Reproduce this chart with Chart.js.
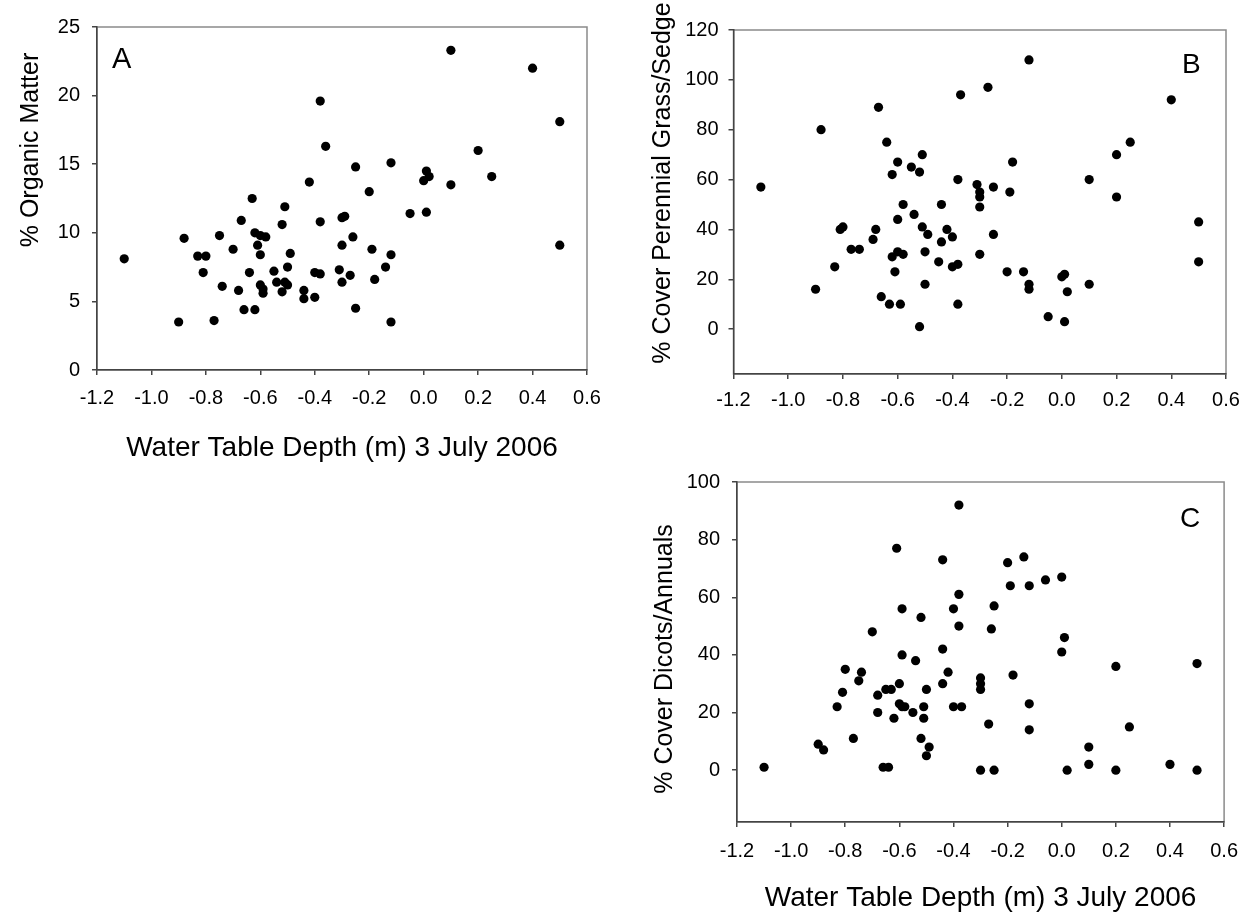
<!DOCTYPE html>
<html>
<head>
<meta charset="utf-8">
<script src="https://cdn.jsdelivr.net/npm/chart.js@4.4.0/dist/chart.umd.min.js"></script>
<style>
body { margin: 0; background: #fff; width: 1250px; height: 913px; position: relative; overflow: hidden; }
canvas { position: absolute; }
</style>
</head>
<body>
<canvas id="chartA" width="640" height="480" style="left:0;top:0"></canvas>
<canvas id="chartB" width="610" height="420" style="left:640px;top:0"></canvas>
<canvas id="chartC" width="610" height="473" style="left:640px;top:440px"></canvas>
<script>
// tick labels
const xTicks = [-1.2, -1.0, -0.8, -0.6, -0.4, -0.2, 0.0, 0.2, 0.4, 0.6];
const yTicksA = [0, 5, 10, 15, 20, 25];
const yTicksB = [0, 20, 40, 60, 80, 100, 120];
const yTicksC = [0, 20, 40, 60, 80, 100];

// A - organic matter
const depthA = [-1.10, -0.90, -0.88, -0.83, -0.80, -0.81, -0.77, -0.75, -0.74, -0.70,
  -0.68, -0.67, -0.66, -0.64, -0.63, -0.62, -0.62, -0.61, -0.60, -0.60,
  -0.58, -0.60, -0.59, -0.59, -0.55, -0.54, -0.52, -0.52, -0.51, -0.51,
  -0.50, -0.50, -0.49, -0.44, -0.44, -0.42, -0.40, -0.40, -0.38, -0.38,
  -0.38, -0.36, -0.31, -0.30, -0.30, -0.29, -0.30, -0.27, -0.25, -0.26,
  -0.25, -0.20, -0.19, -0.18, -0.14, -0.12, -0.12, -0.12, -0.05, 0.01,
  0.00, 0.01, 0.02, 0.10, 0.10, 0.20, 0.25, 0.40, 0.50, 0.50];
const organicA = [8.1, 3.5, 9.6, 8.3, 8.3, 7.1, 3.6, 9.8, 6.1, 8.8,
  5.8, 10.9, 4.4, 7.1, 12.5, 10.0, 4.4, 9.1, 9.8, 8.4,
  9.7, 6.2, 5.9, 5.6, 7.2, 6.4, 5.7, 10.6, 11.9, 6.4,
  7.5, 6.2, 8.5, 5.8, 5.2, 13.7, 7.1, 5.3, 19.6, 10.8,
  7.0, 16.3, 7.3, 9.1, 11.1, 11.2, 6.4, 6.9, 14.8, 9.7,
  4.5, 13.0, 8.8, 6.6, 7.5, 15.1, 8.4, 3.5, 11.4, 11.5,
  13.8, 14.5, 14.1, 23.3, 13.5, 16.0, 14.1, 22.0, 18.1, 9.1];

// B - perennial grass/sedge
const depthB = [-1.10, -0.90, -0.88, -0.83, -0.81, -0.80, -0.77, -0.74, -0.69, -0.68,
  -0.67, -0.66, -0.64, -0.63, -0.62, -0.62, -0.61, -0.60, -0.60, -0.60,
  -0.59, -0.58, -0.58, -0.55, -0.54, -0.52, -0.52, -0.51, -0.51, -0.50,
  -0.49, -0.50, -0.45, -0.44, -0.44, -0.42, -0.40, -0.40, -0.38, -0.38,
  -0.38, -0.37, -0.27, -0.31, -0.30, -0.30, -0.30, -0.25, -0.25, -0.30,
  -0.19, -0.18, -0.20, -0.14, -0.12, -0.12, -0.12, -0.05, 0.00, 0.01,
  0.02, 0.01, 0.10, 0.10, 0.20, 0.20, 0.25, 0.40, 0.50, 0.50];
const grassB = [57, 16, 80, 25, 40, 41, 32, 32, 36, 40,
  89, 13, 75, 10, 62, 29, 23, 67, 31, 44,
  10, 30, 50, 65, 46, 63, 1, 41, 70, 31,
  38, 18, 27, 35, 50, 40, 37, 25, 26, 60,
  10, 94, 97, 58, 55, 53, 49, 57, 38, 30,
  55, 67, 23, 23, 108, 18, 16, 5, 21, 22,
  15, 3, 60, 18, 70, 53, 75, 92, 43, 27];

// C - dicots/annuals
const depthC = [-1.10, -0.90, -0.88, -0.83, -0.81, -0.80, -0.77, -0.75, -0.74, -0.70,
  -0.68, -0.68, -0.66, -0.64, -0.65, -0.63, -0.62, -0.61, -0.60, -0.60,
  -0.59, -0.59, -0.59, -0.58, -0.55, -0.54, -0.52, -0.52, -0.51, -0.51,
  -0.50, -0.49, -0.50, -0.44, -0.44, -0.44, -0.42, -0.40, -0.40, -0.38,
  -0.38, -0.38, -0.37, -0.30, -0.30, -0.30, -0.30, -0.25, -0.27, -0.25,
  -0.26, -0.18, -0.20, -0.14, -0.19, -0.12, -0.12, -0.12, -0.06, 0.00,
  0.01, 0.00, 0.02, 0.10, 0.10, 0.20, 0.20, 0.25, 0.40, 0.50, 0.50];
const dicotC = [1, 9, 7, 22, 27, 35, 11, 31, 34, 48,
  20, 26, 1, 1, 28, 28, 18, 77, 30, 23,
  22, 40, 56, 22, 20, 38, 53, 11, 18, 22,
  28, 8, 5, 73, 42, 30, 34, 22, 56, 92,
  61, 50, 22, 32, 30, 28, 0, 0, 16, 57,
  49, 33, 72, 74, 64, 64, 23, 14, 66, 67,
  46, 41, 0, 8, 2, 36, 0, 15, 2, 37, 0];

const FONT = '"Liberation Sans", Arial, sans-serif';
Chart.defaults.font.family = FONT;

// grey box round the plot area, axes draw over left/bottom
const framePlugin = {
  id: 'frame',
  beforeDraw(chart) {
    const { ctx, chartArea: a } = chart;
    ctx.save();
    ctx.strokeStyle = '#8a8a8a';
    ctx.lineWidth = 1.5;
    ctx.strokeRect(a.left, a.top, a.right - a.left, a.bottom - a.top);
    ctx.restore();
  }
};

// panel letters and rotated y titles
const textPlugin = {
  id: 'panelText',
  afterDraw(chart, args, opts) {
    const ctx = chart.ctx;
    (opts.items || []).forEach(t => {
      ctx.save();
      ctx.fillStyle = '#000';
      ctx.font = t.size + 'px ' + FONT;
      ctx.translate(t.x, t.y);
      if (t.rot) ctx.rotate(t.rot);
      ctx.textAlign = t.align || 'center';
      ctx.textBaseline = t.base || 'middle';
      ctx.fillText(t.text, 0, 0);
      ctx.restore();
    });
  }
};

function makeChart(id, xs, ys, yMin, yMax, yTicks, cfg) {
  const pts = xs.map((x, i) => ({ x: x, y: ys[i] }));
  return new Chart(document.getElementById(id), {
    type: 'scatter',
    data: {
      datasets: [{ data: pts, backgroundColor: '#000', borderWidth: 0, pointRadius: 4.6 }]
    },
    options: {
      responsive: false,
      animation: false,
      events: [],
      layout: { padding: cfg.pad },
      plugins: {
        legend: { display: false },
        tooltip: { enabled: false },
        panelText: { items: cfg.texts }
      },
      scales: {
        x: {
          type: 'linear',
          min: -1.2,
          max: 0.6,
          afterBuildTicks: s => { s.ticks = xTicks.map(v => ({ value: v })); },
          afterFit: s => { s.height = cfg.xh; },
          grid: { drawOnChartArea: false, tickLength: 5, color: '#444', lineWidth: 1.5 },
          border: { color: '#444', width: 1.5 },
          ticks: {
            color: '#000', font: { size: 20 }, padding: cfg.xpad,
            maxRotation: 0, autoSkip: false,
            callback: v => Number(v).toFixed(1)
          },
          title: cfg.xtitle ? {
            display: true, text: cfg.xtitle, color: '#000',
            font: { size: 28, lineHeight: 1 }, padding: { top: 0, bottom: cfg.xtpad }
          } : { display: false }
        },
        y: {
          type: 'linear',
          min: yMin,
          max: yMax,
          afterBuildTicks: s => { s.ticks = yTicks.map(v => ({ value: v })); },
          afterFit: s => { s.width = cfg.yw; },
          grid: { drawOnChartArea: false, tickLength: 5, color: '#444', lineWidth: 1.5 },
          border: { color: '#444', width: 1.5 },
          ticks: { color: '#000', font: { size: 20 }, padding: cfg.ypad }
        }
      }
    },
    plugins: [framePlugin, textPlugin]
  });
}

makeChart('chartA', depthA, organicA, 0, 25, yTicksA, {
  pad: { left: 0, top: 27, right: 53, bottom: 0 },
  yw: 97, xh: 110, xpad: 11, ypad: 12,
  xtitle: 'Water Table Depth (m) 3 July 2006', xtpad: 18,
  texts: [
    { text: '% Organic Matter', x: 31, y: 150, size: 25, rot: -Math.PI / 2 },
    { text: 'A', x: 112, y: 68, size: 29, align: 'left', base: 'alphabetic' }
  ]
});

makeChart('chartB', depthB, grassB, -18, 120, yTicksB, {
  pad: { left: 0, top: 30, right: 24, bottom: 0 },
  yw: 93.5, xh: 46, xpad: 9, ypad: 10,
  texts: [
    { text: '% Cover Perennial Grass/Sedge', x: 23, y: 183, size: 25, rot: -Math.PI / 2 },
    { text: 'B', x: 542, y: 72.5, size: 28, align: 'left', base: 'alphabetic' }
  ]
});

makeChart('chartC', depthC, dicotC, -18, 100, yTicksC, {
  pad: { left: 0, top: 42, right: 25, bottom: 0 },
  yw: 97, xh: 91, xpad: 12, ypad: 12,
  xtitle: 'Water Table Depth (m) 3 July 2006', xtpad: 1,
  texts: [
    { text: '% Cover Dicots/Annuals', x: 25, y: 219, size: 25, rot: -Math.PI / 2 },
    { text: 'C', x: 540, y: 87, size: 28, align: 'left', base: 'alphabetic' }
  ]
});
</script>
</body>
</html>
